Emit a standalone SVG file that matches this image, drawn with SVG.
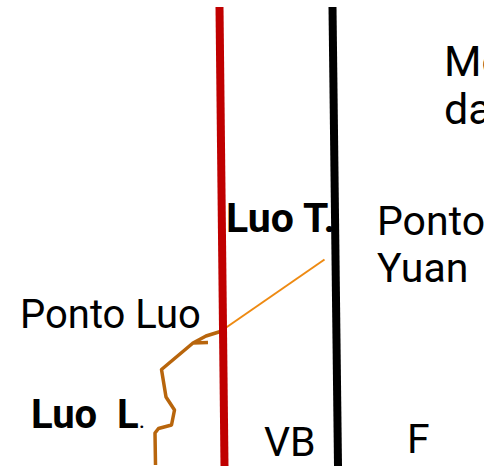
<svg xmlns="http://www.w3.org/2000/svg" width="484" height="468" viewBox="0 0 484 468">
<style>
text{font-family:Roboto,"Liberation Sans",sans-serif;fill:#000}
.b{font-weight:bold}
</style>
<rect width="484" height="468" fill="#fff"/>
<g id="labels">
<text x="444" y="76" font-size="43">Me</text>
<text x="444" y="124" font-size="43">da</text>
<text class="b" x="226" y="232" font-size="41">Luo T.</text>
<text x="377" y="235" font-size="41">Ponto</text>
<text x="377" y="282" font-size="41">Yuan</text>
<text x="20" y="328" font-size="40">Ponto Luo</text>
<text class="b" x="31" y="428" font-size="40" xml:space="preserve">Luo  L<tspan font-weight="normal" font-size="24">.</tspan></text>
<text x="264" y="456" font-size="41">VB</text>
<text x="407" y="453" font-size="41">F</text>
</g>
<g id="connectors">
<line id="orange" x1="324.5" y1="259.5" x2="224" y2="329" stroke="#ee8a12" stroke-width="2"/>
<path id="brown" d="M222,331 L206,336 L193,343 L208,342.5 M193,343 L161.5,369.5 L166,397 L174.5,410 L171.5,425 L158.5,428.5 L155,433 L155.5,465" fill="none" stroke="#b8650c" stroke-width="3.5" stroke-linejoin="round"/>
</g>
<g id="red-meridian"><line x1="219.5" y1="7" x2="224.5" y2="466" stroke="#c00000" stroke-width="8"/></g>
<g id="black-meridian"><line x1="332.5" y1="7" x2="338" y2="466" stroke="#000" stroke-width="8"/></g>
</svg>
